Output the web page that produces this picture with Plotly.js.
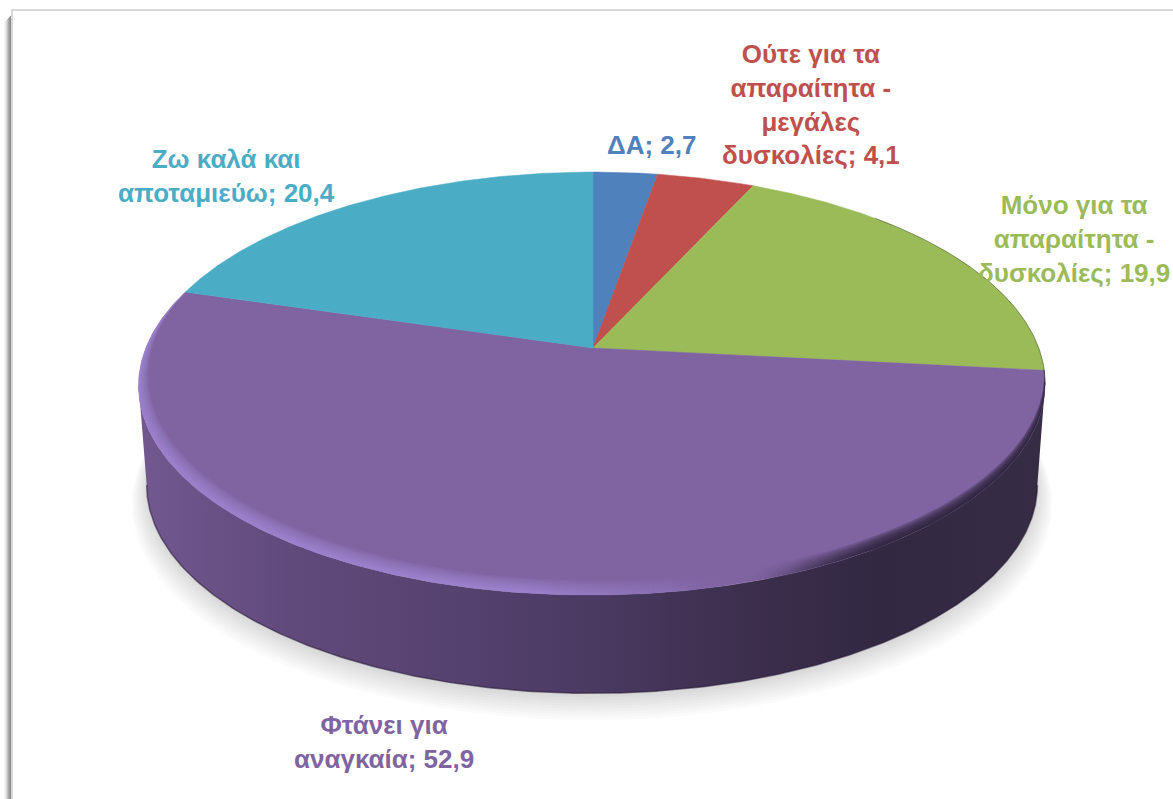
<!DOCTYPE html>
<html>
<head>
<meta charset="utf-8">
<script src="https://cdn.plot.ly/plotly-3.0.1.min.js"></script>
<style>html,body{margin:0;padding:0;background:#fff;overflow:hidden}#chart{width:1173px;height:799px}</style>
</head>
<body>
<div id="chart"></div>
<script>
// ---- data ----
const categories = ["ΔΑ", "Ούτε για τα απαραίτητα - μεγάλες δυσκολίες", "Μόνο για τα απαραίτητα - δυσκολίες", "Φτάνει για αναγκαία", "Ζω καλά και αποταμιεύω"];
const values = [2.7, 4.1, 19.9, 52.9, 20.4];
const labelLines = [
  ["ΔΑ; 2,7"],
  ["Ούτε για τα", "απαραίτητα -", "μεγάλες", "δυσκολίες; 4,1"],
  ["Μόνο για τα", "απαραίτητα -", "δυσκολίες; 19,9"],
  ["Φτάνει για", "αναγκαία; 52,9"],
  ["Ζω καλά και", "αποταμιεύω; 20,4"]
];
const sliceColors = ["#4f81bd", "#c0504d", "#9bbb59", "#8064a2", "#4bacc6"];
const labelX = [652, 811, 1074, 384, 226];
const labelY = [145, 104, 239, 742, 176];

// ---- perspective view of the pie disc ----
const CX = 593, CY = 348, A = 445.7, B = 205.5, K = 0.168;
function project(deg, r) {
  r = r === undefined ? 1 : r;
  const t = deg * Math.PI / 180, u = r * Math.sin(t), v = r * Math.cos(t), w = 1 + K * v;
  return [CX + A * u / w, CY - B * v / w];
}
function rimBulge(d) { return d > 180 && d < 287 ? 0.007 * Math.sin(Math.PI * (d - 180) / 107) : 0; }
function rim(d) { return project(d, 1 + rimBulge(d)); }
const rimMidY = 383.5;
function lower(deg, grow, dy) {
  const p = project(deg), g = grow || 1;
  return [592 + (p[0] - 593) * 0.985 * g, 485 + (dy || 0) + (p[1] - rimMidY) * 0.985 * g];
}
function arcAngles(a, b, step) {
  const n = Math.max(2, Math.ceil(Math.abs(b - a) / (step || 0.5))), out = [];
  for (let i = 0; i <= n; i++) out.push(a + (b - a) * i / n);
  return out;
}
const traces = [];
const deco = {mode: "lines", line: {width: 0}, hoverinfo: "skip", showlegend: false, fill: "toself"};

// soft shadow below the disc
[[1.034, 20], [1.030, 18], [1.026, 16], [1.022, 14], [1.018, 12], [1.014, 10], [1.010, 8], [1.006, 6], [1.003, 4], [1.0, 2]].forEach(s => {
  const pts = arcAngles(0, 360, 1).map(d => lower(d, s[0], s[1]));
  traces.push(Object.assign({}, deco, {x: pts.map(p => p[0]), y: pts.map(p => p[1]), fillcolor: "rgba(0,0,0,0.014)"}));
});

// side wall (the wall in view belongs to the largest slice)
const thetaR = Math.acos(-K) * 180 / Math.PI, thetaL = 360 - thetaR;
const wallPts = arcAngles(thetaR, thetaL).map(d => rim(d)).concat(arcAngles(thetaL, thetaR).map(d => lower(d)));
traces.push(Object.assign({}, deco, {
  x: wallPts.map(p => p[0]), y: wallPts.map(p => p[1]),
  fillgradient: {type: "horizontal", colorscale: [
    [0, "#72588f"], [0.17, "#604a7c"], [0.34, "#564270"], [0.5, "#4a3a62"], [0.66, "#3d2f4e"], [0.82, "#322842"], [1, "#362c44"]
  ]}
}));
const wallEdge = arcAngles(thetaL, thetaR).map(d => lower(d));
traces.push({mode: "lines", x: wallEdge.map(p => p[0]), y: wallEdge.map(p => p[1]), line: {width: 1.5, color: "rgba(35,22,50,0.55)"}, hoverinfo: "skip", showlegend: false});

// top face slices
let cum = 0;
const sliceRange = [];
values.forEach((val, i) => {
  const a0 = cum / 100 * 360, a1 = (cum + val) / 100 * 360;
  cum += val;
  sliceRange.push([a0, a1]);
  const pts = [[CX, CY]].concat(arcAngles(a0, a1).map(d => rim(d)));
  pts.push([CX, CY]);
  traces.push({
    x: pts.map(p => p[0]), y: pts.map(p => p[1]), mode: "lines", fill: "toself",
    fillcolor: sliceColors[i], line: {width: 0.5, color: sliceColors[i]},
    name: categories[i], text: labelLines[i].join(" "), hoverinfo: "text", hoveron: "fills", showlegend: false
  });
});

// bevel along the front rim of the largest slice
const big = sliceRange[3];
[0.05, 0.044, 0.038, 0.032, 0.026, 0.02, 0.015, 0.01, 0.006].forEach(t => {
  const angs = arcAngles(big[0], big[1]);
  const outer = angs.map(d => rim(d));
  const inner = angs.slice().reverse().map(d => {
    const f = Math.sin(Math.PI * (d - big[0]) / (big[1] - big[0]));
    return project(d, 1 + rimBulge(d) - t * Math.max(f, 0.03));
  });
  const pts = outer.concat(inner);
  traces.push(Object.assign({}, deco, {
    x: pts.map(p => p[0]), y: pts.map(p => p[1]),
    fillgradient: {type: "horizontal", colorscale: [
      [0, "rgba(165,140,220,0.13)"], [0.42, "rgba(165,140,220,0.13)"], [0.58, "rgba(150,125,200,0.06)"],
      [0.66, "rgba(128,100,162,0)"], [0.72, "rgba(45,35,60,0.05)"], [0.82, "rgba(45,35,60,0.26)"], [1, "rgba(45,35,60,0.26)"]
    ]}
  }));
});

// thin dark fringe on the right of the rim
const fringe = arcAngles(45, 100).map(d => project(d));
traces.push({mode: "lines", x: fringe.map(p => p[0]), y: fringe.map(p => p[1]), line: {width: 1, color: "rgba(50,60,30,0.45)"}, hoverinfo: "skip", showlegend: false});

// labels
const annotations = labelLines.map((lines, i) => ({
  x: labelX[i], y: labelY[i], xref: "x", yref: "y", xanchor: "center", yanchor: "middle", align: "center",
  showarrow: false, text: lines.map(s => "<b>" + s + "</b>").join("<br>"),
  font: {family: "Liberation Sans, Arial, sans-serif", size: 26, color: sliceColors[i]}
}));

// frame with its shadow
const shapes = [];
const shadowGreys = ["#f4f4f4", "#e8e8e8", "#d8d8d8", "#c4c4c4", "#aeaeae", "#9a9a9a", "#8c8c8c"];
shadowGreys.forEach((c, i) => {
  shapes.push({type: "rect", layer: "below", xref: "x", yref: "y", x0: 4 + i, x1: 5 + i, y0: 22 - i, y1: 799, fillcolor: c, line: {width: 0}});
});
shapes.push({type: "line", layer: "below", xref: "x", yref: "y", x0: 12, x1: 1173, y0: 10, y1: 10, line: {color: "#d9d9d9", width: 2}});
shapes.push({type: "line", layer: "below", xref: "x", yref: "y", x0: 12, x1: 12, y0: 9, y1: 799, line: {color: "#d9d9d9", width: 2}});

const hidden = {visible: false, fixedrange: true, showgrid: false, zeroline: false};
Plotly.newPlot("chart", traces, {
  width: 1173, height: 799, margin: {l: 0, r: 0, t: 0, b: 0, pad: 0},
  paper_bgcolor: "#fff", plot_bgcolor: "rgba(0,0,0,0)", showlegend: false,
  xaxis: Object.assign({range: [0, 1173]}, hidden),
  yaxis: Object.assign({range: [799, 0]}, hidden),
  annotations: annotations, shapes: shapes
}, {displayModeBar: false, responsive: false});
</script>
</body>
</html>
